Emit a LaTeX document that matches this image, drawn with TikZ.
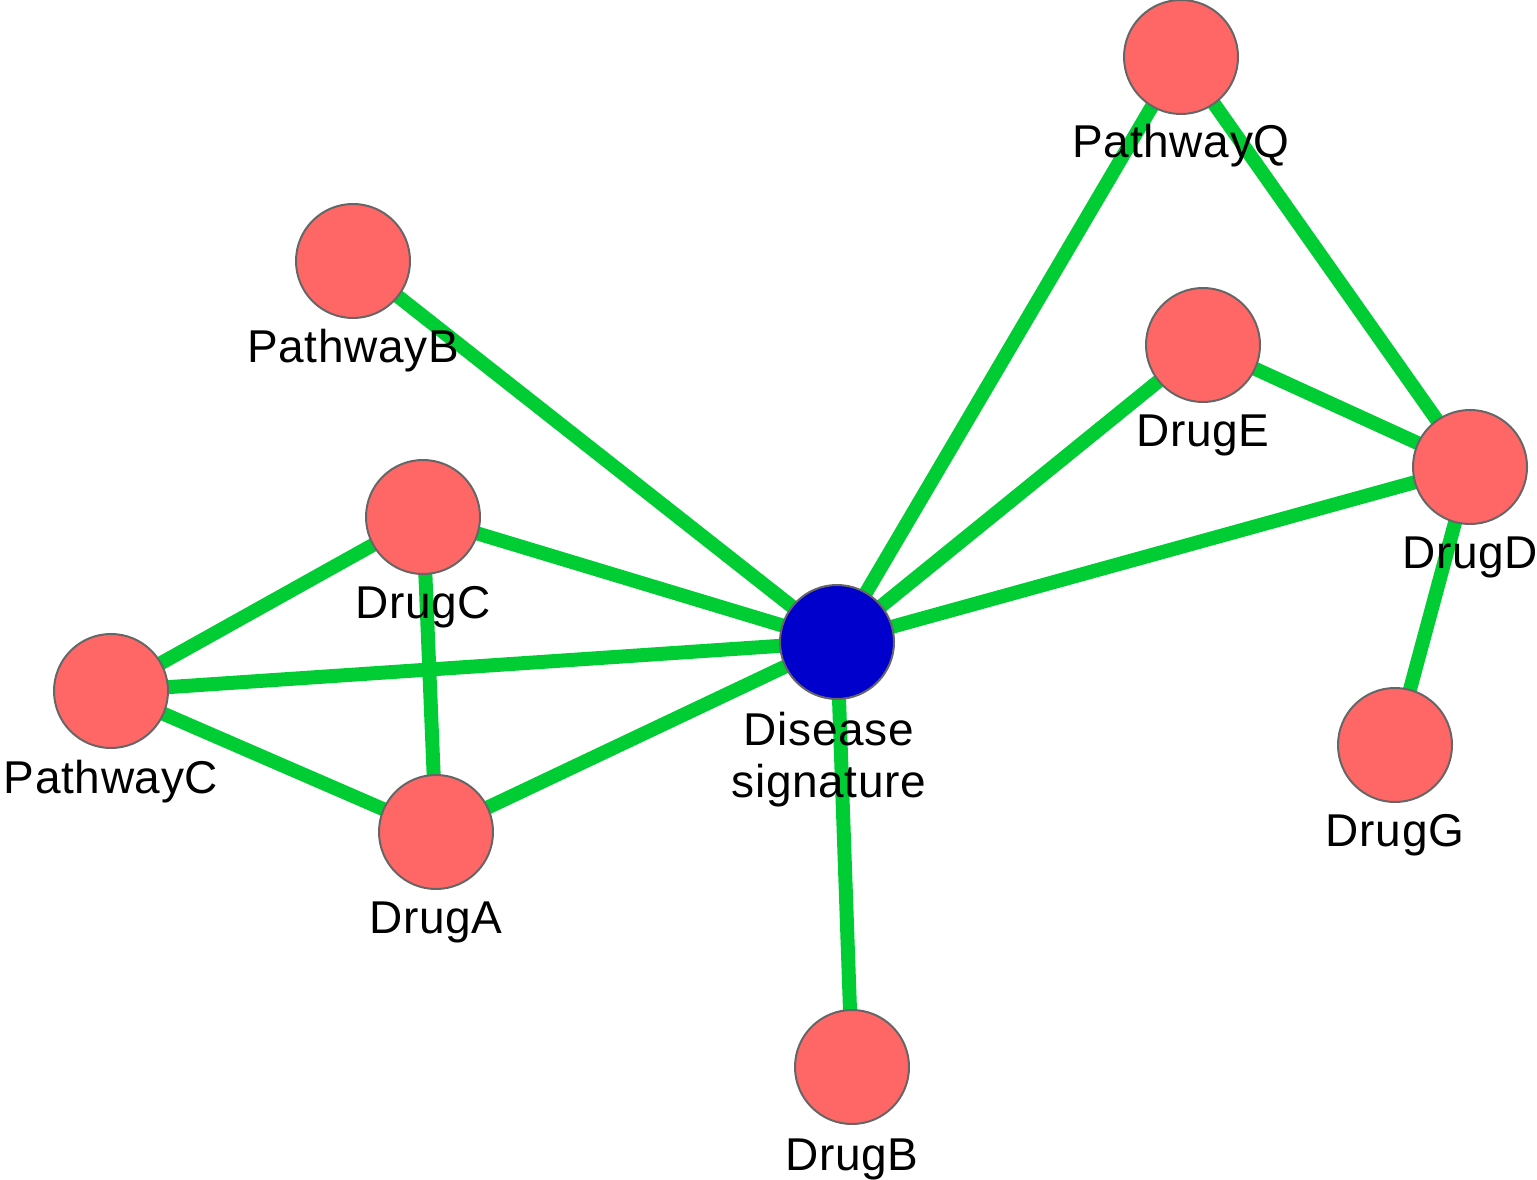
\documentclass[tikz,border=0pt]{standalone}
\usepackage{fontspec}
\setmainfont[LetterSpace=1.5]{Liberation Sans}
\usetikzlibrary{backgrounds}
\begin{document}
\begin{tikzpicture}[x=0.75pt,y=-0.75pt,
  vert/.style={circle,draw=black!60,line width=1.5pt,minimum size=114*0.75pt,inner sep=0pt},
  drug/.style={vert,fill=salmon},
  query/.style={vert,fill=deepblue},
  link/.style={draw=linkgreen,line width=10.5pt},
  lbl/.style={anchor=base,inner sep=0pt,font=\fontsize{34.5}{39}\selectfont,align=center}]
\definecolor{salmon}{HTML}{FF6666}
\definecolor{deepblue}{HTML}{0000CC}
\definecolor{linkgreen}{HTML}{00CC33}
\useasboundingbox (0,0) rectangle (1537,1180);
\clip (0,0) rectangle (1537,1180);

% vertices
\node[query] (dis) at (837,642) {};
\node[drug] (pq) at (1181,57) {};
\node[drug] (pb) at (353,261) {};
\node[drug] (de) at (1203,345) {};
\node[drug] (dd) at (1470,467) {};
\node[drug] (dc) at (423,517) {};
\node[drug] (pc) at (111,691) {};
\node[drug] (dg) at (1395,745) {};
\node[drug] (da) at (436,832) {};
\node[drug] (db) at (852,1067) {};

% edges, kept behind the vertices
\begin{scope}[on background layer]
\path[link] (pb.center) -- (dis.center);
\path[link] (dc.center) -- (dis.center);
\path[link] (pc.center) -- (dis.center);
\path[link] (da.center) -- (dis.center);
\path[link] (pq.center) -- (dis.center);
\path[link] (de.center) -- (dis.center);
\path[link] (dd.center) -- (dis.center);
\path[link] (db.center) -- (dis.center);
\path[link] (pq.center) -- (dd.center);
\path[link] (de.center) -- (dd.center);
\path[link] (dd.center) -- (dg.center);
\path[link] (dc.center) -- (pc.center);
\path[link] (dc.center) -- (da.center);
\path[link] (pc.center) -- (da.center);
\end{scope}

% labels, drawn over the edges
\node[lbl] (ldis) at (829,797) {Disease\\signature};
\node[lbl] (lpq) at (1181,158) {PathwayQ};
\node[lbl] (lpb) at (353,362) {PathwayB};
\node[lbl] (lde) at (1203,446) {DrugE};
\node[lbl] (ldd) at (1470,568) {DrugD};
\node[lbl] (ldc) at (423,618) {DrugC};
\node[lbl] (lpc) at (111,793) {PathwayC};
\node[lbl] (ldg) at (1395,846) {DrugG};
\node[lbl] (lda) at (436,933) {DrugA};
\node[lbl] (ldb) at (852,1170) {DrugB};
\end{tikzpicture}
\end{document}
